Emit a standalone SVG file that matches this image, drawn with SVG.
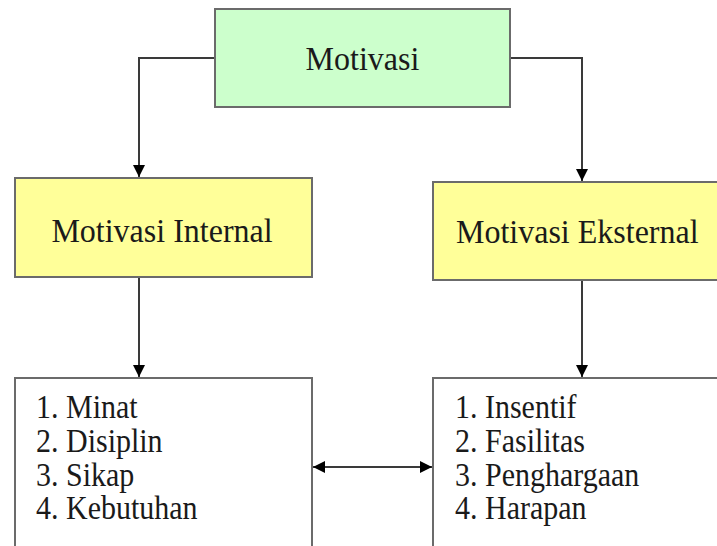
<svg xmlns="http://www.w3.org/2000/svg" width="717" height="546" viewBox="0 0 717 546">
<style>
.box{stroke:#6b6b6b;stroke-width:2}
.green{fill:#ccffcc}
.yellow{fill:#ffff99}
.white{fill:#ffffff}
.conn{fill:none;stroke:#3a3a3a;stroke-width:2}
</style>
<defs>
<marker id="ah" markerUnits="userSpaceOnUse" markerWidth="14" markerHeight="14" refX="12" refY="6" orient="auto-start-reverse">
<path d="M0,0 L12,6 L0,12 Z" fill="#000"/>
</marker>
</defs>
<rect width="717" height="546" fill="#ffffff"/>
<g id="connectors">
<path class="conn" d="M215,58 H139 V177" marker-end="url(#ah)"/>
<path class="conn" d="M510,58 H582 V181" marker-end="url(#ah)"/>
<path class="conn" d="M139,277 V377" marker-end="url(#ah)"/>
<path class="conn" d="M582,280 V377" marker-end="url(#ah)"/>
<path class="conn" d="M313,467 H432" marker-start="url(#ah)" marker-end="url(#ah)"/>
</g>
<g font-family="Liberation Serif, Times New Roman, serif" fill="#1a1a1a">
<g id="motivasi">
<rect class="box green" x="215" y="9" width="295" height="98"/>
<text font-size="32" transform="translate(362.5,70) scale(1,1.08)" text-anchor="middle">Motivasi</text>
</g>
<g id="motivasi-internal">
<rect class="box yellow" x="15" y="178" width="297" height="99"/>
<text font-size="32" transform="translate(162,242) scale(1,1.08)" text-anchor="middle">Motivasi Internal</text>
</g>
<g id="motivasi-eksternal">
<rect class="box yellow" x="433" y="182" width="300" height="98"/>
<text font-size="32" transform="translate(456,243) scale(1,1.08)">Motivasi Eksternal</text>
</g>
<g id="internal-list" font-size="30">
<rect class="box white" x="15" y="378" width="297" height="190"/>
<text transform="translate(36,418) scale(1,1.1)">1. Minat</text>
<text transform="translate(36,452) scale(1,1.1)">2. Disiplin</text>
<text transform="translate(36,486) scale(1,1.1)">3. Sikap</text>
<text transform="translate(36,519) scale(1,1.1)">4. Kebutuhan</text>
</g>
<g id="eksternal-list" font-size="30">
<rect class="box white" x="433" y="378" width="300" height="190"/>
<text transform="translate(455,418) scale(1,1.1)">1. Insentif</text>
<text transform="translate(455,452) scale(1,1.1)">2. Fasilitas</text>
<text transform="translate(455,486) scale(1,1.1)">3. Penghargaan</text>
<text transform="translate(455,519) scale(1,1.1)">4. Harapan</text>
</g>
</g>
</svg>
